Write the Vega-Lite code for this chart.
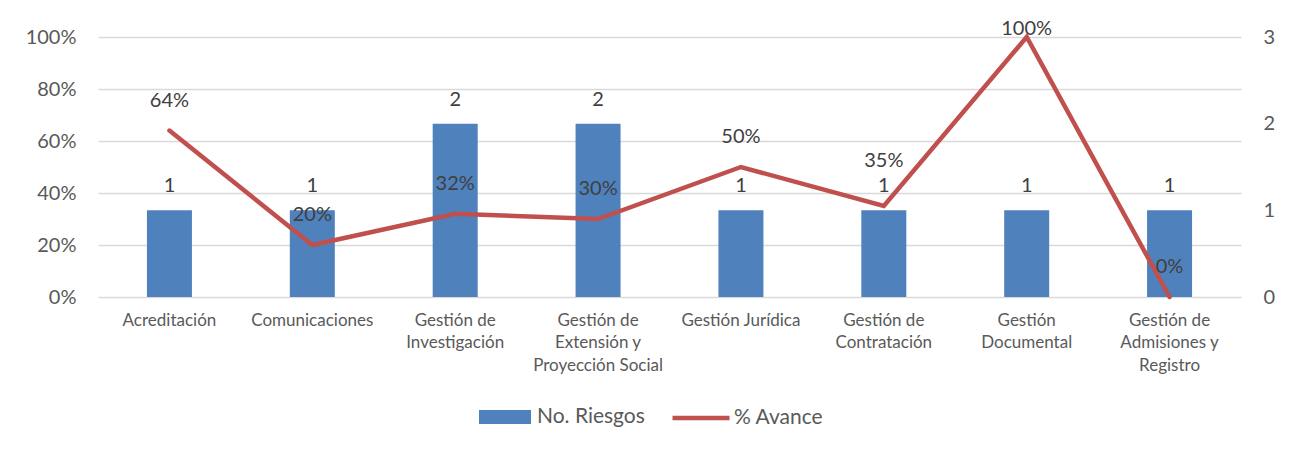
{
  "$schema": "https://vega.github.io/schema/vega-lite/v6.json",
  "width": 1143,
  "height": 260,
  "autosize": {"type": "none"},
  "padding": {"left": 98, "top": 37, "right": 50, "bottom": 153},
  "background": "white",
  "config": {
    "font": "Lato",
    "view": {"stroke": null},
    "axis": {"labelFont": "Lato", "labelColor": "#595959", "title": null, "ticks": false, "domain": false}
  },
  "data": {
    "values": [
      {"proceso": "Acreditación", "riesgos": 1, "avance": 0.64},
      {"proceso": "Comunicaciones", "riesgos": 1, "avance": 0.20},
      {"proceso": "Gestión de Investigación", "riesgos": 2, "avance": 0.32},
      {"proceso": "Gestión de Extensión y Proyección Social", "riesgos": 2, "avance": 0.30},
      {"proceso": "Gestión Jurídica", "riesgos": 1, "avance": 0.50},
      {"proceso": "Gestión de Contratación", "riesgos": 1, "avance": 0.35},
      {"proceso": "Gestión Documental", "riesgos": 1, "avance": 1.00},
      {"proceso": "Gestión de Admisiones y Registro", "riesgos": 1, "avance": 0.00}
    ]
  },
  "encoding": {
    "x": {
      "field": "proceso",
      "type": "nominal",
      "sort": null,
      "scale": {"paddingInner": 0.685, "paddingOuter": 0.3425},
      "axis": {
        "labelAngle": 0,
        "labelFontSize": 17,
        "labelPadding": 15,
        "labelLineHeight": 22.5,
        "labelBaseline": "top",
        "labelLimit": 200,
        "grid": false,
        "labelExpr": "datum.value == 'Gestión de Investigación' ? ['Gestión de','Investigación'] : datum.value == 'Gestión de Extensión y Proyección Social' ? ['Gestión de','Extensión y','Proyección Social'] : datum.value == 'Gestión de Contratación' ? ['Gestión de','Contratación'] : datum.value == 'Gestión Documental' ? ['Gestión','Documental'] : datum.value == 'Gestión de Admisiones y Registro' ? ['Gestión de','Admisiones y','Registro'] : datum.label"
      }
    }
  },
  "layer": [
    {
      "encoding": {
        "y": {
          "field": "riesgos",
          "type": "quantitative",
          "scale": {"domain": [0, 3], "nice": false},
          "axis": {"orient": "right", "grid": false, "values": [0, 1, 2, 3], "labelOverlap": false, "labelFontSize": 20, "labelPadding": 22, "format": "d"}
        }
      },
      "layer": [
        {
          "mark": {"type": "bar", "color": "#4f81bd"},
          "encoding": {
            "fill": {
              "datum": "No. Riesgos",
              "type": "nominal",
              "scale": {"range": ["#4f81bd"]},
              "legend": {
                "title": null,
                "orient": "none",
                "legendX": 381,
                "legendY": 354,
                "symbolType": "M-1,-0.27H1V0.27H-1Z",
                "symbolSize": 2704,
                "symbolStrokeWidth": 0,
                "labelFontSize": 21,
                "labelColor": "#595959",
                "labelOffset": 6
              }
            }
          }
        },
        {
          "mark": {"type": "text", "baseline": "alphabetic", "dy": -18, "fontSize": 20, "color": "#404040"},
          "encoding": {"text": {"field": "riesgos", "type": "quantitative"}}
        }
      ]
    },
    {
      "encoding": {
        "y": {
          "field": "avance",
          "type": "quantitative",
          "scale": {"domain": [0, 1], "nice": false},
          "axis": {"orient": "left", "grid": true, "gridColor": "#d9d9d9", "gridWidth": 1.3, "values": [0, 0.2, 0.4, 0.6, 0.8, 1], "format": ".0%", "labelFontSize": 20, "labelPadding": 22}
        }
      },
      "layer": [
        {
          "mark": {"type": "line", "strokeWidth": 4.5, "strokeCap": "round"},
          "encoding": {
            "stroke": {
              "datum": "% Avance",
              "type": "nominal",
              "scale": {"range": ["#c0504d"]},
              "legend": {
                "title": null,
                "orient": "none",
                "legendX": 572,
                "legendY": 350,
                "symbolType": "stroke",
                "symbolSize": 3249,
                "symbolStrokeWidth": 4.5,
                "labelFontSize": 21,
                "labelColor": "#595959",
                "labelOffset": 2
              }
            }
          }
        },
        {
          "transform": [{"filter": "datum.avance != 1 && datum.avance != 0.35"}],
          "mark": {"type": "text", "baseline": "alphabetic", "dy": -24, "fontSize": 20, "color": "#404040"},
          "encoding": {"text": {"field": "avance", "type": "quantitative", "format": ".0%"}}
        },
        {
          "transform": [{"filter": "datum.avance == 0.35"}],
          "mark": {"type": "text", "baseline": "alphabetic", "dy": -39, "fontSize": 20, "color": "#404040"},
          "encoding": {"text": {"field": "avance", "type": "quantitative", "format": ".0%"}}
        },
        {
          "transform": [{"filter": "datum.avance == 1"}],
          "mark": {"type": "text", "baseline": "alphabetic", "dy": -2, "fontSize": 20, "color": "#404040"},
          "encoding": {"text": {"field": "avance", "type": "quantitative", "format": ".0%"}}
        }
      ]
    }
  ],
  "resolve": {"scale": {"y": "independent"}}
}
